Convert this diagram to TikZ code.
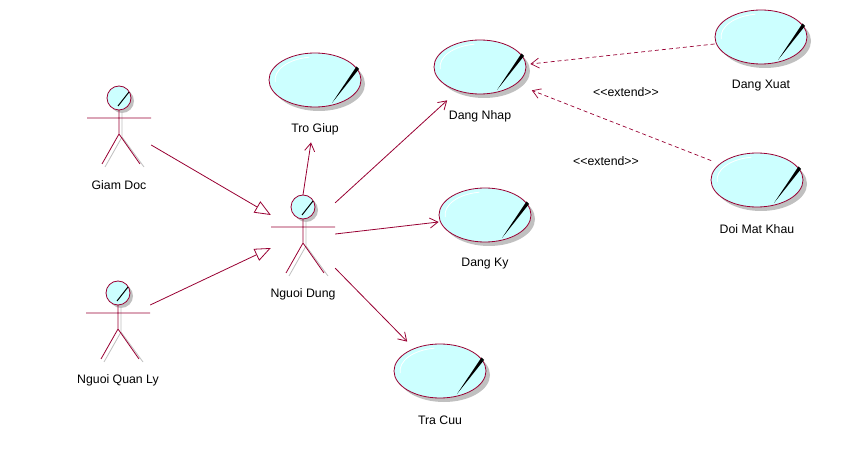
\documentclass[tikz,border=0pt]{standalone}
\usepackage{fontspec}
\newfontfamily\rosefont{Liberation Sans}
\usetikzlibrary{arrows.meta,shapes.geometric,shadows}
\definecolor{roseline}{RGB}{153,0,51}
\definecolor{rosefill}{RGB}{204,255,255}
\definecolor{roseshade}{RGB}{192,192,192}

% stick figure: name, x, y of the head, text
\newcommand{\stickactor}[4]{%
  \begin{scope}[shift={(#2,#3)}]
    \draw[roseshade, line width=0.8pt] (3,15) -- (3,39) -- (-14,69) (3,39) -- (25,69);
    \fill[roseshade] (3,3) circle (12);
    \draw[wire] (0,12) -- (0,36) -- (-17,66) (0,36) -- (21,66) (-32,20) -- (32,20);
    \draw[wire, fill=rosefill] (0,0) circle (12);
    \draw[black, line width=1pt] (10,-6) -- (-1,8);
    \node[minimum width=64pt, minimum height=78pt, inner sep=0pt] (#1) at (0,27) {};
    \node[txt] (#1-lbl) at (0,87) {#4};
  \end{scope}}

% use case: name, x, y, text
\newcommand{\usecase}[4]{%
  \node[uc] (#1) at (#2,#3) {};
  \fill[black, shift={(#1.center)}] (41.5,-13.5) -- (44,-11) -- (17,23) -- cycle;
  \draw[white, line width=0.8pt, shift={(#1.center)}] (175:40 and 23) arc[start angle=175, end angle=262, x radius=40, y radius=23];
  \node[txt] (#1-lbl) at (#2,#3+49) {#4};}

\begin{document}
\begin{tikzpicture}[x=1pt, y=-1pt,
    wire/.style={draw=roseline, line width=0.8pt},
    txt/.style={font=\rosefont\fontsize{12.3}{14}\selectfont, inner sep=0pt},
    uc/.style={ellipse, wire, fill=rosefill, minimum width=92pt, minimum height=54pt, inner sep=0pt,
      drop shadow={shadow xshift=4pt, shadow yshift=-4pt, fill=roseshade, opacity=1}},
    assoc/.style={wire, -{Straight Barb[length=8pt, width=10pt]}},
    general/.style={wire, -{Triangle[open, length=16pt, width=13pt, fill=white]}},
    extend/.style={draw=roseline, line width=0.7pt, dash pattern=on 4pt off 3pt,
      -{Straight Barb[length=8pt, width=10pt]}}]
  \useasboundingbox[fill=white] (0,0) rectangle (857,470);

  \stickactor{giamdoc}{119}{98}{Giam Doc}
  \stickactor{quanly}{118}{293}{Nguoi Quan Ly}
  \stickactor{nguoidung}{303}{207}{Nguoi Dung}

  \usecase{trogiup}{315}{80}{Tro Giup}
  \usecase{dangnhap}{480}{67}{Dang Nhap}
  \usecase{dangxuat}{761}{37}{Dang Xuat}
  \usecase{doimatkhau}{757}{180}{Doi Mat Khau}
  \usecase{dangky}{485}{215}{Dang Ky}
  \usecase{tracuu}{440}{371}{Tra Cuu}

  \node[txt] (ext1) at (626,92) {<<extend>>};
  \node[txt] (ext2) at (606,161) {<<extend>>};

  \begin{scope}[general]
    \draw ([yshift=-20pt]giamdoc.east) to ([yshift=19pt]nguoidung.west);
    \draw ([yshift=15pt]quanly.east) to ([yshift=-14pt]nguoidung.west);
  \end{scope}
  \begin{scope}[assoc]
    \draw (nguoidung.north) to ([xshift=-4pt, yshift=-35pt]trogiup.south);
    \draw ([yshift=-8pt]nguoidung.north east) to ([yshift=-14pt]dangnhap.south west);
    \draw (nguoidung.east) to ([yshift=-7pt]dangky.west);
    \draw ([yshift=5pt]nguoidung.south east) to ([yshift=10pt]tracuu.north west);
  \end{scope}
  \begin{scope}[extend]
    \draw ([yshift=-7pt]dangxuat.west) to ([xshift=4pt, yshift=3pt]dangnhap.east);
    \draw ([xshift=-13pt]doimatkhau.north west) to ([xshift=19pt, yshift=-4pt]dangnhap.south east);
  \end{scope}
\end{tikzpicture}
\end{document}
